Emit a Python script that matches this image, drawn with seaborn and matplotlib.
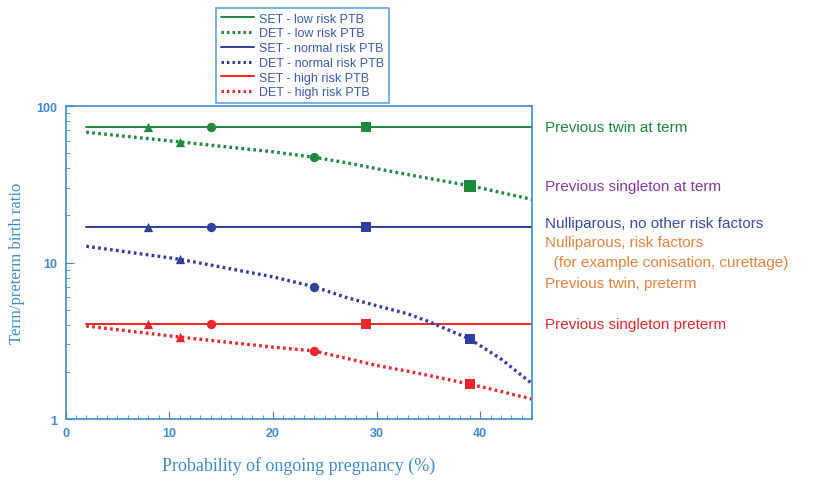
import matplotlib
matplotlib.use("Agg")
from matplotlib import pyplot as plt
from matplotlib.lines import Line2D
from matplotlib.ticker import MultipleLocator, LogLocator, FixedFormatter, FixedLocator, NullFormatter
import seaborn as sb
import pandas as pd
import numpy as np

# valores
x_range = [2, 45]
set_low = 73.5
set_normal = 16.9
set_high = 4.05

det_x = [2, 11, 20, 24, 27, 30, 33, 35, 39, 42, 45]
det_low = [68, 59, 51, 47, 43.5, 39.8, 36.5, 34.5, 31, 28, 25.3]
det_normal = [12.7, 10.5, 8.1, 7.0, 6.0, 5.3, 4.7, 4.2, 3.24, 2.42, 1.68]
det_high = [3.93, 3.34, 2.88, 2.72, 2.45, 2.2, 2.02, 1.9, 1.67, 1.5, 1.34]

set_mark_x = [8, 14, 29]
det_mark_x = [11, 24, 39]
det_low_marks = [59, 47, 31]
det_normal_marks = [10.5, 7.0, 3.24]
det_high_marks = [3.34, 2.72, 1.67]

right_labels = ["Previous twin at term", "Previous singleton at term",
                "Nulliparous, no other risk factors", "Nulliparous, risk factors",
                "  (for example conisation, curettage)", "Previous twin, preterm",
                "Previous singleton preterm"]
right_label_y = [73.5, 31, 17.9, 13.5, 10.1, 7.4, 4.05]

verde = "#1d8a3c"
azul = "#2e3f9c"
rojo = "#e8282b"
naranja = "#e9823a"
morado = "#8a3a9a"
celeste = "#3d8ed0"
label_colors = [verde, morado, "#3a4ca6", naranja, naranja, naranja, rojo]

sb.set_style("white")
plt.rcParams["font.family"] = ["Liberation Sans", "DejaVu Sans"]

fig = plt.figure(figsize=(8.2, 4.81), dpi=100)
ax = fig.add_axes([0.0799, 0.1268, 0.569, 0.6507])

set_df = pd.DataFrame({"x": x_range * 3,
                       "y": [set_low] * 2 + [set_normal] * 2 + [set_high] * 2,
                       "g": ["low"] * 2 + ["normal"] * 2 + ["high"] * 2})
det_df = pd.DataFrame({"x": det_x * 3, "y": det_low + det_normal + det_high,
                       "g": ["low"] * len(det_x) + ["normal"] * len(det_x) + ["high"] * len(det_x)})
pal = {"low": verde, "normal": azul, "high": rojo}

sb.lineplot(data=set_df, x="x", y="y", hue="g", palette=pal, linewidth=1.4, legend=False, ax=ax)
for g in ["low", "normal", "high"]:
    sub = det_df[det_df["g"] == g]
    sb.lineplot(data=sub, x="x", y="y", color=pal[g], linewidth=2.4,
                linestyle=(0, (0.8, 1.0)), legend=False, ax=ax, sort=True)

mk = ["^", "o", "s"]
set_vals = {"low": set_low, "normal": set_normal, "high": set_high}
det_vals = {"low": det_low_marks, "normal": det_normal_marks, "high": det_high_marks}
for g in ["low", "normal", "high"]:
    for i in range(3):
        ax.scatter(set_mark_x[i], set_vals[g], marker=mk[i], s=45, color=pal[g], zorder=5, linewidths=0)
        sz = 70 if (g == "low" and i == 2) else 45
        ax.scatter(det_mark_x[i], det_vals[g][i], marker=mk[i], s=sz, color=pal[g], zorder=5, linewidths=0)

ax.set_yscale("log")
ax.set_xlim(0, 45)
ax.set_ylim(1, 100)
ax.xaxis.set_major_locator(MultipleLocator(10))
ax.xaxis.set_minor_locator(MultipleLocator(1))
ax.yaxis.set_major_locator(FixedLocator([1, 10, 100]))
ax.yaxis.set_major_formatter(FixedFormatter(["1", "10", "100"]))
ax.yaxis.set_minor_locator(LogLocator(base=10, subs=np.arange(2, 10)))
ax.yaxis.set_minor_formatter(NullFormatter())
ax.tick_params(axis="both", which="major", direction="in", length=6, color=celeste,
               labelcolor=celeste, labelsize=9, bottom=True, left=True, pad=6)
ax.tick_params(axis="both", which="minor", direction="in", length=3, color=celeste,
               bottom=True, left=True)
for lab in ax.get_xticklabels() + ax.get_yticklabels():
    lab.set_fontweight("bold")
for s in ax.spines.values():
    s.set_color(celeste)
    s.set_linewidth(1.2)

ax.set_xlabel("Probability of ongoing pregnancy (%)", family="Liberation Serif",
              fontsize=13, color=celeste, labelpad=12)
ax.set_ylabel("Term/preterm birth ratio", family="Liberation Serif",
              fontsize=12, color=celeste, labelpad=8)

for t, yy, c in zip(right_labels, right_label_y, label_colors):
    ax.text(46.2, yy, t, color=c, fontsize=11, va="center", ha="left", clip_on=False)

handles = [Line2D([], [], color=verde, lw=1.4),
           Line2D([], [], color=verde, lw=2.2, ls=(0, (0.8, 1.0))),
           Line2D([], [], color=azul, lw=1.4),
           Line2D([], [], color=azul, lw=2.2, ls=(0, (0.8, 1.0))),
           Line2D([], [], color=rojo, lw=1.4),
           Line2D([], [], color=rojo, lw=2.2, ls=(0, (0.8, 1.0)))]
labels = ["SET - low risk PTB", "DET - low risk PTB", "SET - normal risk PTB",
          "DET - normal risk PTB", "SET - high risk PTB", "DET - high risk PTB"]
leg = fig.legend(handles, labels, loc="upper left", bbox_to_anchor=(0.256, 0.995),
                 fontsize=9, frameon=True, fancybox=False, handlelength=2.6,
                 handletextpad=0.4, labelspacing=0.22, borderpad=0.4, labelcolor="#3a5cb0")
leg.get_frame().set_edgecolor(celeste)
leg.get_frame().set_linewidth(1.2)
leg.set_zorder(10)

fig.savefig("out.png", dpi=100)
